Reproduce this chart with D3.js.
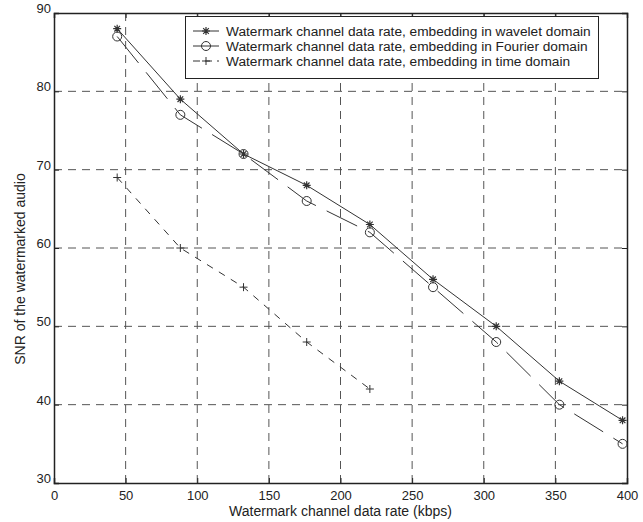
<!DOCTYPE html>
<html><head><meta charset="utf-8">
<script src="https://cdn.jsdelivr.net/npm/d3@7"></script>
<style>body{margin:0;background:#fff}svg{display:block}text{font-family:"Liberation Sans",Arial,sans-serif;fill:#222}</style>
</head><body>
<svg id="c" width="643" height="522"></svg>
<script>
const rates = [44.1, 88.2, 132.3, 176.4, 220.5, 264.6, 308.7, 352.8, 396.9];
const wavelet = [88, 79, 72, 68, 63, 56, 50, 43, 38];
const fourier = [87, 77, 72, 66, 62, 55, 48, 40, 35];
const timeRates = [44.1, 88.2, 132.3, 176.4, 220.5];
const timeDom = [69, 60, 55, 48, 42];
const xTicks = [0, 50, 100, 150, 200, 250, 300, 350, 400];
const yTicks = [30, 40, 50, 60, 70, 80, 90];
const legendLabels = [
  "Watermark channel data rate, embedding in wavelet domain",
  "Watermark channel data rate, embedding in Fourier domain",
  "Watermark channel data rate, embedding in time domain"
];

const svg = d3.select("#c");
const L = 54, R = 627, T = 13, B = 483;
const x = d3.scaleLinear().domain([0, 400]).range([L, R]);
const y = d3.scaleLinear().domain([30, 90]).range([B, T]);

// grid
const grid = svg.append("g").attr("stroke", "#555").attr("stroke-width", 1).attr("stroke-dasharray", "8,6");
grid.selectAll(".gx").data(xTicks.slice(1, -1)).join("line")
  .attr("x1", d => x(d)).attr("x2", d => x(d)).attr("y1", T).attr("y2", B);
grid.selectAll(".gy").data(yTicks.slice(1, -1)).join("line")
  .attr("x1", L).attr("x2", R).attr("y1", d => y(d)).attr("y2", d => y(d));

// axes
const fs = 13;
const xa = svg.append("g").attr("transform", `translate(0,${B})`)
  .call(d3.axisBottom(x).tickValues(xTicks).tickSize(-5).tickPadding(8).tickFormat(d3.format("d")));
const xt = svg.append("g").attr("transform", `translate(0,${T})`)
  .call(d3.axisTop(x).tickValues(xTicks).tickSize(-5).tickFormat(""));
const ya = svg.append("g").attr("transform", `translate(${L},0)`)
  .call(d3.axisLeft(y).tickValues(yTicks).tickSize(-5).tickPadding(3).tickFormat(d3.format("d")));
const yr = svg.append("g").attr("transform", `translate(${R},0)`)
  .call(d3.axisRight(y).tickValues(yTicks).tickSize(-5).tickFormat(""));
[xa, xt, ya, yr].forEach(g => {
  g.select(".domain").attr("stroke", "#222").attr("stroke-width", 1.5);
  g.selectAll(".tick line").attr("stroke", "#222");
  g.selectAll("text").attr("font-size", fs).attr("fill", "#333").attr("font-family", "Liberation Sans, Arial, sans-serif");
});
ya.selectAll(".tick text").attr("dy", "-0.05em");

// labels
svg.append("text").attr("x", (L + R) / 2).attr("y", 516).attr("text-anchor", "middle")
  .attr("font-size", 14).attr("fill", "#333").text("Watermark channel data rate (kbps)");
svg.append("text").attr("transform", `translate(20,269) rotate(-90)`).attr("text-anchor", "middle")
  .attr("dy", "0.35em").attr("font-size", 14).attr("fill", "#333").text("SNR of the watermarked audio");

// lines
const line = d3.line().x(d => x(d[0])).y(d => y(d[1]));
const wData = rates.map((r, i) => [r, wavelet[i]]);
const fData = rates.map((r, i) => [r, fourier[i]]);
const tData = timeRates.map((r, i) => [r, timeDom[i]]);
svg.append("path").attr("d", line(wData)).attr("fill", "none").attr("stroke", "#333").attr("stroke-width", 1);
svg.append("path").attr("d", line(fData)).attr("fill", "none").attr("stroke", "#333").attr("stroke-width", 1).attr("stroke-dasharray", "34,12");
svg.append("path").attr("d", line(tData)).attr("fill", "none").attr("stroke", "#333").attr("stroke-width", 1).attr("stroke-dasharray", "7,7");

function star(g, cx, cy, s) {
  const p = [];
  for (let k = 0; k < 4; k++) {
    const a = k * Math.PI / 4;
    p.push(`M${cx - s * Math.cos(a)},${cy - s * Math.sin(a)}L${cx + s * Math.cos(a)},${cy + s * Math.sin(a)}`);
  }
  g.append("path").attr("d", p.join("")).attr("stroke", "#333").attr("stroke-width", 1.2).attr("fill", "none");
}
function circ(g, cx, cy, r) {
  g.append("circle").attr("cx", cx).attr("cy", cy).attr("r", r).attr("fill", "none").attr("stroke", "#333").attr("stroke-width", 1);
}
function plus(g, cx, cy, s) {
  g.append("path").attr("d", `M${cx - s},${cy}L${cx + s},${cy}M${cx},${cy - s}L${cx},${cy + s}`)
    .attr("stroke", "#333").attr("stroke-width", 1).attr("fill", "none");
}
const mk = svg.append("g");
wData.forEach(d => star(mk, x(d[0]), y(d[1]), 4));
fData.forEach(d => circ(mk, x(d[0]), y(d[1]), 4.5));
tData.forEach(d => plus(mk, x(d[0]), y(d[1]), 4));

// legend
const lg = svg.append("g");
lg.append("rect").attr("x", 185.5).attr("y", 16.5).attr("width", 413).attr("height", 62)
  .attr("fill", "#fff").attr("stroke", "#222").attr("stroke-width", 1);
const rowsY = [31, 46, 61];
const markers = [star, circ, plus];
legendLabels.forEach((t, i) => {
  const yy = rowsY[i];
  lg.append("line").attr("x1", 193).attr("x2", 219).attr("y1", yy).attr("y2", yy).attr("stroke", "#333")
    .attr("stroke-dasharray", i === 2 ? "7,5" : null);
  markers[i](lg, 206, yy, i === 1 ? 4.5 : 4);
  lg.append("text").attr("x", 226).attr("y", yy).attr("dy", "0.35em").attr("font-size", 13.7).attr("fill", "#333").text(t);
});
</script>
</body></html>
